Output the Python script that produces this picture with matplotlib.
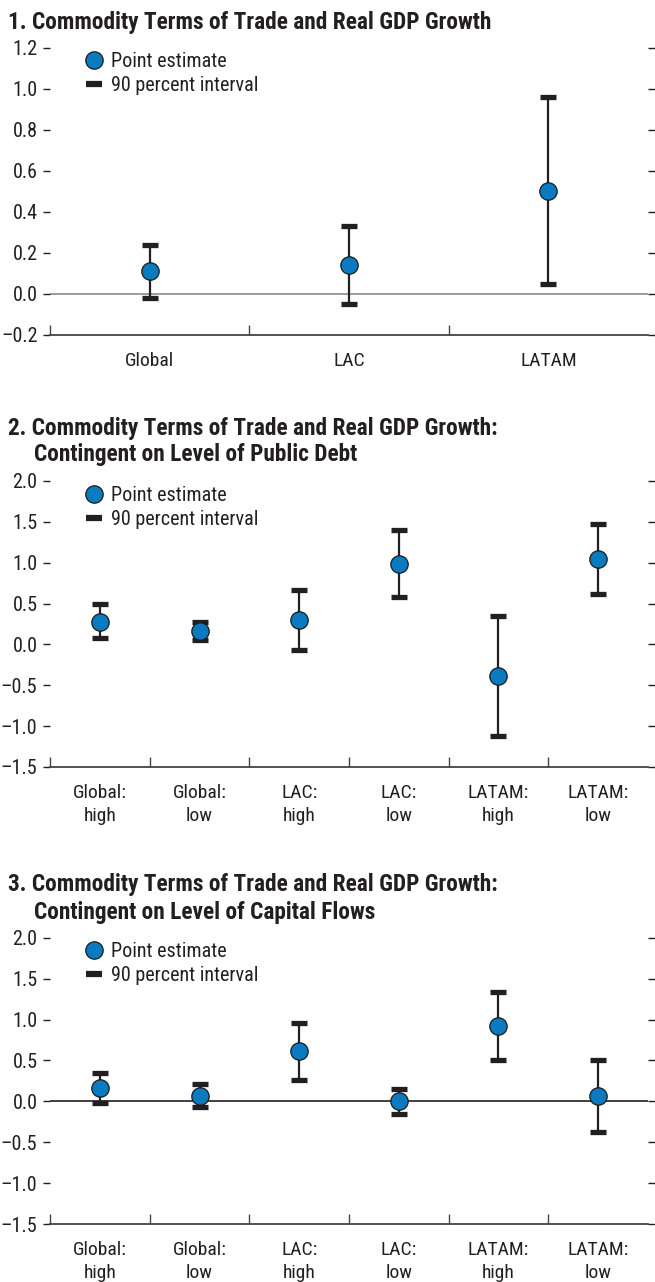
import numpy as np
import matplotlib
matplotlib.use('Agg')
import matplotlib.pyplot as plt
from matplotlib.lines import Line2D
from matplotlib.ticker import FuncFormatter, FixedLocator

plt.rcParams['font.family'] = ['Roboto Condensed', 'Archivo Narrow', 'DejaVu Sans']

# panel 1
cats1 = ['Global', 'LAC', 'LATAM']
est1 = [0.11, 0.14, 0.50]
lo1 = [-0.02, -0.05, 0.05]
hi1 = [0.24, 0.33, 0.96]

# panels 2 and 3
cats23 = ['Global:\nhigh', 'Global:\nlow', 'LAC:\nhigh', 'LAC:\nlow', 'LATAM:\nhigh', 'LATAM:\nlow']
est2 = [0.28, 0.16, 0.30, 0.99, -0.39, 1.04]
lo2 = [0.08, 0.05, -0.07, 0.58, -1.12, 0.62]
hi2 = [0.49, 0.27, 0.67, 1.40, 0.35, 1.47]

est3 = [0.16, 0.07, 0.61, 0.00, 0.92, 0.07]
lo3 = [-0.02, -0.07, 0.26, -0.16, 0.51, -0.38]
hi3 = [0.34, 0.21, 0.96, 0.15, 1.34, 0.51]

blue = '#0A7BC1'
dark = '#231F20'

fig = plt.figure(figsize=(6.55, 12.82), dpi=100)
H = 1282.0


def panel(top_px, bot_px, cats, est, lo, hi, ylim, yticks, zero_color):
    ax = fig.add_axes([50 / 655, (H - bot_px) / H, 598 / 655, (bot_px - top_px) / H])
    est = np.array(est)
    x = np.arange(len(cats))
    yerr = [est - np.array(lo), np.array(hi) - est]
    ax.errorbar(x, est, yerr=yerr, fmt='none', ecolor=dark, elinewidth=1.6,
                capsize=6, capthick=3.8, zorder=3)
    ax.plot(x, est, 'o', ms=12.5, mfc=blue, mec='#1a1a1a', mew=0.9, zorder=4)
    if zero_color:
        ax.axhline(0, color=zero_color, lw=1.2, zorder=1)
    ax.set_xlim(-0.5, len(cats) - 0.5)
    ax.set_ylim(*ylim)
    for s in ['top', 'left', 'right']:
        ax.spines[s].set_visible(False)
    ax.spines['bottom'].set_color('#444444')
    ax.spines['bottom'].set_linewidth(1.3)
    ax.set_xticks(x)
    ax.set_xticklabels(cats, fontsize=14, color=dark, linespacing=1.4)
    ax.xaxis.set_minor_locator(FixedLocator(np.arange(len(cats)) - 0.5))
    ax.tick_params(axis='x', which='major', length=0, pad=12)
    ax.tick_params(axis='x', which='minor', direction='in', length=7, color='#444444', width=1)
    ax.set_yticks(yticks)
    ax.yaxis.set_major_formatter(FuncFormatter(lambda v, p: ('%.1f' % v).replace('-', '\u2013')))
    ax.tick_params(axis='y', left=True, right=True, direction='out', length=5, width=1,
                   color=dark, labelsize=14.5, labelcolor=dark, pad=4)
    h1 = Line2D([], [], marker='o', ls='none', ms=12.5, mfc=blue, mec='#1a1a1a', mew=0.9)
    h2 = Line2D([], [], marker='_', ls='none', ms=11, mew=4.5, color=dark)
    ax.legend([h1, h2], ['Point estimate', '90 percent interval'], loc='upper left',
              bbox_to_anchor=(0.04, 1.012), frameon=False, fontsize=14.5,
              handletextpad=0.25, labelspacing=0.25, borderaxespad=0, handlelength=1.2,
              labelcolor=dark)
    return ax


def title(lines, y_px):
    fig.text(8 / 655, 1 - y_px[0] / H, lines[0], fontsize=16.8, fontweight='bold',
             color=dark, va='center', ha='left')
    if len(lines) > 1:
        fig.text(34 / 655, 1 - y_px[1] / H, lines[1], fontsize=16.8, fontweight='bold',
                 color=dark, va='center', ha='left')


title(['1. Commodity Terms of Trade and Real GDP Growth'], [22])
panel(47.5, 335, cats1, est1, lo1, hi1, (-0.2, 1.2), np.arange(-0.2, 1.21, 0.2), '#8c8c8c')

title(['2. Commodity Terms of Trade and Real GDP Growth:',
       'Contingent on Level of Public Debt'], [428, 455])
panel(481, 767, cats23, est2, lo2, hi2, (-1.5, 2.0), np.arange(-1.5, 2.01, 0.5), None)

title(['3. Commodity Terms of Trade and Real GDP Growth:',
       'Contingent on Level of Capital Flows'], [885, 912])
panel(937.7, 1224, cats23, est3, lo3, hi3, (-1.5, 2.0), np.arange(-1.5, 2.01, 0.5), dark)

fig.savefig('out.png', dpi=100)
